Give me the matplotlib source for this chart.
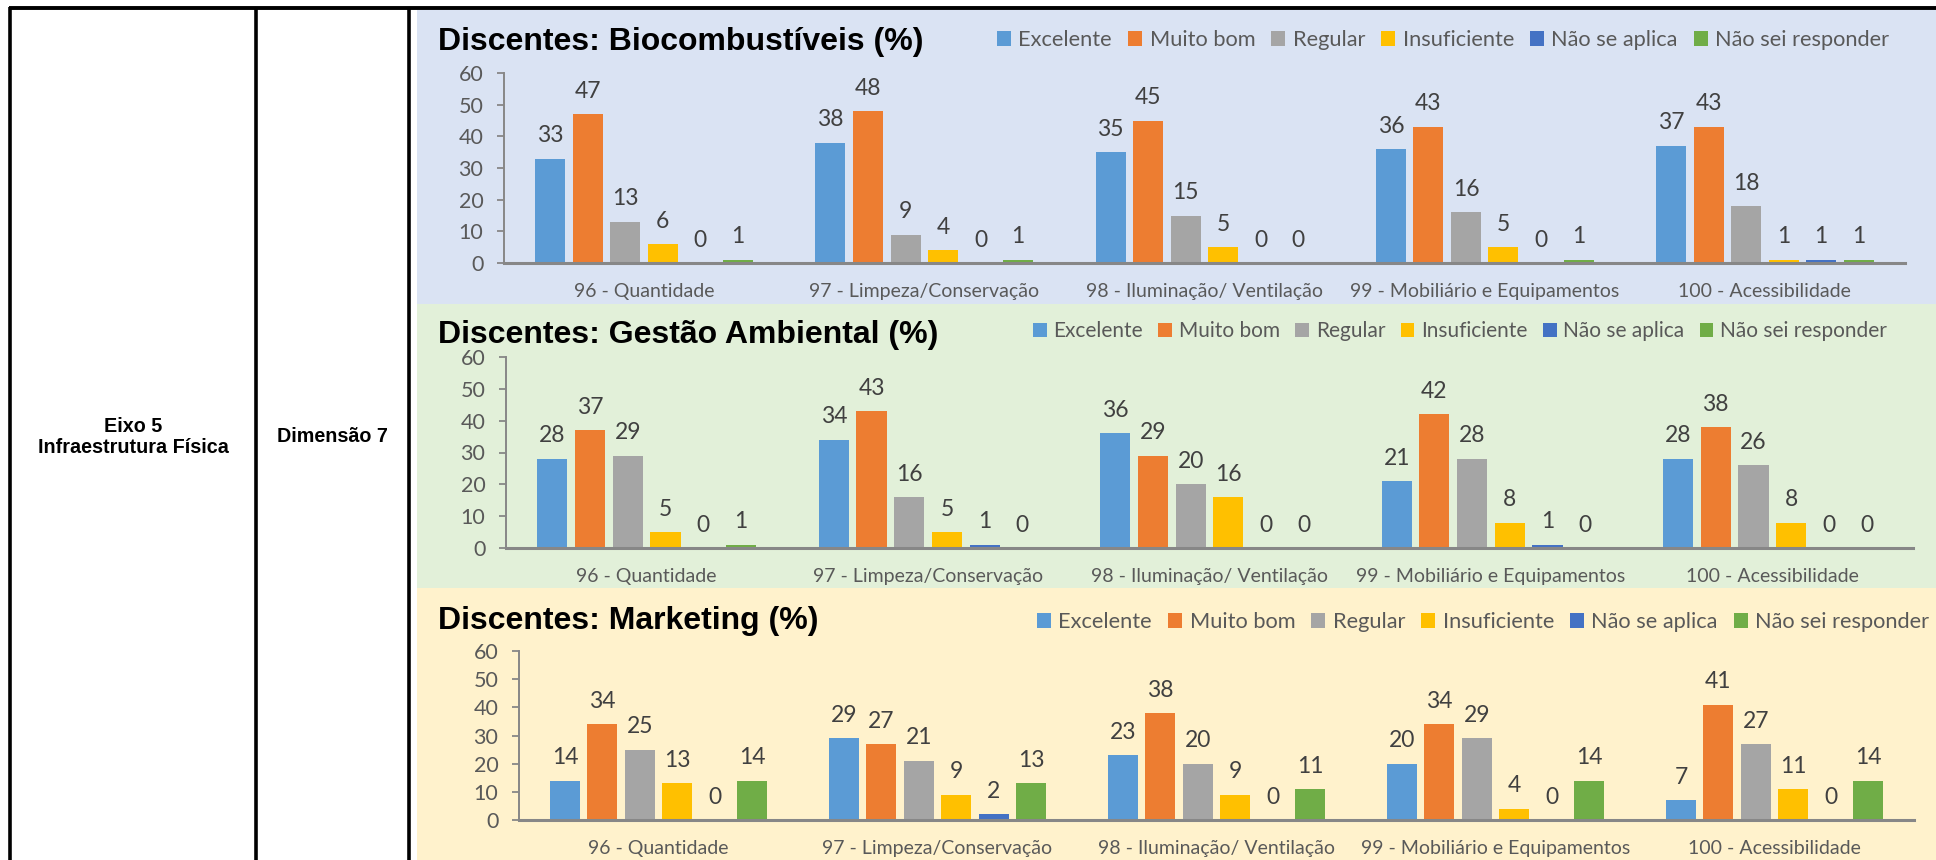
import matplotlib
matplotlib.use("Agg")
import matplotlib.pyplot as plt
from matplotlib.patches import Rectangle, Patch
import numpy as np

plt.rcParams["font.family"] = ["Lato", "DejaVu Sans"]

# ---------------------------------------------------------------- data
categories = [
    "96 - Quantidade",
    "97 - Limpeza/Conservação",
    "98 - Iluminação/ Ventilação",
    "99 - Mobiliário e Equipamentos",
    "100 - Acessibilidade",
]
series_names = ["Excelente", "Muito bom", "Regular", "Insuficiente",
                "Não se aplica", "Não sei responder"]
series_colors = ["#5B9BD5", "#ED7D31", "#A5A5A5", "#FFC000", "#4472C4", "#70AD47"]

# Discentes: Biocombustíveis (%)
bio_excelente = [33, 38, 35, 36, 37]
bio_muito_bom = [47, 48, 45, 43, 43]
bio_regular = [13, 9, 15, 16, 18]
bio_insuficiente = [6, 4, 5, 5, 1]
bio_nao_aplica = [0, 0, 0, 0, 1]
bio_nao_sei = [1, 1, 0, 1, 1]

# Discentes: Gestão Ambiental (%)
gest_excelente = [28, 34, 36, 21, 28]
gest_muito_bom = [37, 43, 29, 42, 38]
gest_regular = [29, 16, 20, 28, 26]
gest_insuficiente = [5, 5, 16, 8, 8]
gest_nao_aplica = [0, 1, 0, 1, 0]
gest_nao_sei = [1, 0, 0, 0, 0]

# Discentes: Marketing (%)
mkt_excelente = [14, 29, 23, 20, 7]
mkt_muito_bom = [34, 27, 38, 34, 41]
mkt_regular = [25, 21, 20, 29, 27]
mkt_insuficiente = [13, 9, 9, 4, 11]
mkt_nao_aplica = [0, 2, 0, 0, 0]
mkt_nao_sei = [14, 13, 11, 14, 14]

y_ticks = [0, 10, 20, 30, 40, 50, 60]

# ---------------------------------------------------------------- layout
W, H = 1936, 860


def fx(x):
    return x / W


def fy(y):
    return 1 - y / H


panels = [
    dict(title="Discentes: Biocombustíveis (%)",
         series=[bio_excelente, bio_muito_bom, bio_regular,
                 bio_insuficiente, bio_nao_aplica, bio_nao_sei],
         bg="#DAE3F3", band=(10, 304), title_base=50,
         legend_x=997, legend_y=40, legend_size=15.7,
         axes=(504, 1905, 73, 263)),
    dict(title="Discentes: Gestão Ambiental (%)",
         series=[gest_excelente, gest_muito_bom, gest_regular,
                 gest_insuficiente, gest_nao_aplica, gest_nao_sei],
         bg="#E2F0D9", band=(304, 588), title_base=343,
         legend_x=1033, legend_y=331, legend_size=15.0,
         axes=(506, 1913, 357, 548)),
    dict(title="Discentes: Marketing (%)",
         series=[mkt_excelente, mkt_muito_bom, mkt_regular,
                 mkt_insuficiente, mkt_nao_aplica, mkt_nao_sei],
         bg="#FFF2CC", band=(588, 860), title_base=629,
         legend_x=1037, legend_y=622, legend_size=15.7,
         axes=(519, 1914, 651, 820)),
]

AXIS_GREY = "#878787"
TEXT_GREY = "#595959"
LABEL_GREY = "#404040"

fig = plt.figure(figsize=(W / 100, H / 100), dpi=100)
fig.patch.set_facecolor("white")

# background layer: table grid and coloured panel bands
bg = fig.add_axes([0, 0, 1, 1])
bg.set_xlim(0, W)
bg.set_ylim(H, 0)
bg.axis("off")
bg.set_zorder(0)

for p in panels:
    top, bottom = p["band"]
    bg.add_patch(Rectangle((417, top), W - 417, bottom - top,
                           facecolor=p["bg"], edgecolor="none"))

for x in (10, 256, 409):
    bg.plot([x, x], [7, H], color="black", lw=2.6, solid_capstyle="butt")
bg.plot([9, W], [8, 8], color="black", lw=2.8, solid_capstyle="butt")

bg.text(133, 437, "Eixo 5\nInfraestrutura Física", ha="center", va="center",
        fontsize=14.2, fontweight="bold", family=["Liberation Sans", "DejaVu Sans"],
        linespacing=1.1, color="black")
bg.text(332, 437, "Dimensão 7", ha="center", va="center",
        fontsize=14.2, fontweight="bold", family=["Liberation Sans", "DejaVu Sans"],
        color="black")

# ---------------------------------------------------------------- charts
n_series = len(series_names)
pitch = 0.134
bar_w = 0.107
x = np.arange(len(categories))

for p in panels:
    left, right, top, bottom = p["axes"]
    ax = fig.add_axes([fx(left), fy(bottom), (right - left) / W, (bottom - top) / H])
    ax.set_zorder(1)
    ax.patch.set_visible(False)

    for i, (vals, col) in enumerate(zip(p["series"], series_colors)):
        xs = x + (i - (n_series - 1) / 2) * pitch
        bars = ax.bar(xs, vals, width=bar_w, color=col, linewidth=0, zorder=2)
        for rect, v in zip(bars, vals):
            ax.annotate(f"{v}", (rect.get_x() + rect.get_width() / 2, v),
                        xytext=(0, 11.8), textcoords="offset points",
                        ha="center", va="baseline", fontsize=16.5,
                        color=LABEL_GREY)

    ax.set_xlim(-0.5, len(categories) - 0.5)
    ax.set_ylim(0, 60)
    ax.set_yticks(y_ticks)
    ax.set_xticks(x)
    ax.set_xticklabels(categories)

    for side in ("top", "right"):
        ax.spines[side].set_visible(False)
    ax.spines["left"].set_color(AXIS_GREY)
    ax.spines["left"].set_linewidth(1.4)
    ax.spines["bottom"].set_color(AXIS_GREY)
    ax.spines["bottom"].set_linewidth(2.2)
    ax.spines["bottom"].set_zorder(3)

    ax.tick_params(axis="y", length=4.8, width=1.3, color=AXIS_GREY, pad=10,
                   labelsize=15.5, labelcolor=TEXT_GREY)
    ax.tick_params(axis="x", length=0, pad=14.5, labelsize=14, labelcolor=TEXT_GREY)

    fig.text(fx(438), fy(p["title_base"]), p["title"], ha="left", va="baseline",
             fontsize=23, fontweight="bold",
             family=["Liberation Sans", "DejaVu Sans"], color="black")

    handles = [Patch(facecolor=c, edgecolor="none") for c in series_colors]
    fig.legend(handles, series_names, loc="center left",
               bbox_to_anchor=(fx(p["legend_x"]), fy(p["legend_y"])),
               ncol=n_series, frameon=False, fontsize=p["legend_size"],
               handlelength=0.65, handleheight=0.65, handletextpad=0.33,
               columnspacing=0.74, borderpad=0, borderaxespad=0,
               labelcolor=TEXT_GREY)

fig.savefig("out.png", dpi=100)
